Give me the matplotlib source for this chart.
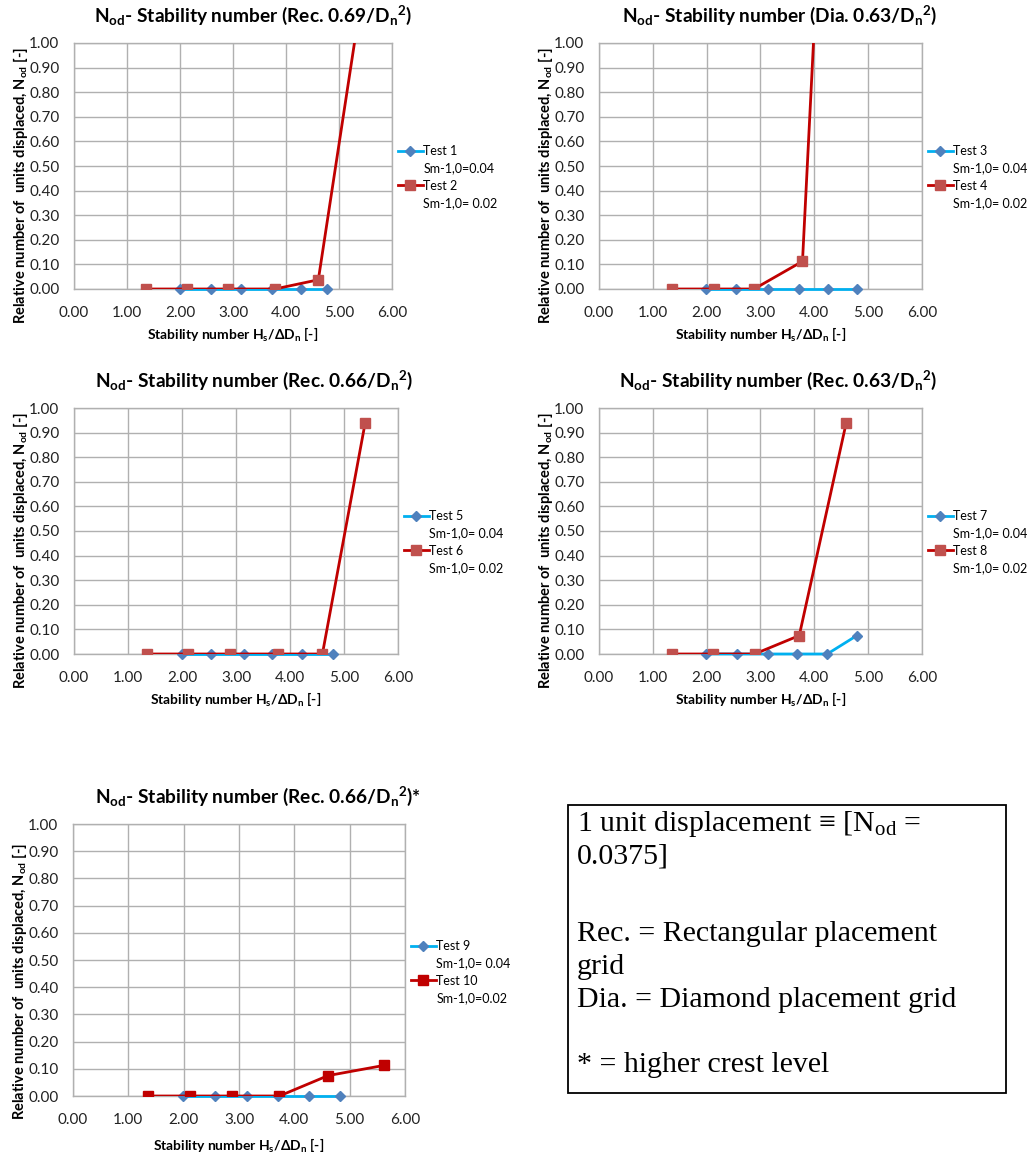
import matplotlib
matplotlib.use("Agg")
import matplotlib.pyplot as plt
from matplotlib.lines import Line2D

plt.rcParams["font.family"] = ["Lato", "DejaVu Sans"]
plt.rcParams["mathtext.fontset"] = "custom"
plt.rcParams["mathtext.rm"] = "Lato"
plt.rcParams["mathtext.it"] = "Lato"
plt.rcParams["mathtext.bf"] = "Lato:bold"

# Blue series (Sm-1,0 = 0.04)
x_test1 = [2.00, 2.58, 3.16, 3.73, 4.28, 4.78]
y_test1 = [0, 0, 0, 0, 0, 0]
x_test3 = [1.98, 2.55, 3.14, 3.71, 4.25, 4.80]
y_test3 = [0, 0, 0, 0, 0, 0]
x_test5 = [2.00, 2.53, 3.15, 3.66, 4.23, 4.79]
y_test5 = [0, 0, 0, 0, 0, 0]
x_test7 = [1.98, 2.57, 3.14, 3.68, 4.24, 4.79]
y_test7 = [0, 0, 0, 0, 0, 0.075]
x_test9 = [1.98, 2.56, 3.14, 3.70, 4.26, 4.82]
y_test9 = [0, 0, 0, 0, 0, 0]

# Red series (Sm-1,0 = 0.02)
x_test2 = [1.35, 2.14, 2.90, 3.79, 4.61, 5.38]
y_test2 = [0, 0, 0, 0, 0.0375, 1.125]
x_test4 = [1.35, 2.14, 2.88, 3.78, 4.03]
y_test4 = [0, 0, 0, 0.1125, 1.2]
x_test6 = [1.35, 2.12, 2.88, 3.78, 4.60, 5.39]
y_test6 = [0, 0, 0, 0, 0, 0.9375]
x_test8 = [1.36, 2.12, 2.89, 3.72, 4.59]
y_test8 = [0, 0, 0, 0.075, 0.9375]
x_test10 = [1.36, 2.12, 2.88, 3.73, 4.61, 5.62]
y_test10 = [0, 0, 0, 0, 0.075, 0.1125]

titles = [
    r"$\mathbf{N_{od}}$- Stability number (Rec. 0.69/$\mathbf{D_n}^\mathbf{2}$)",
    r"$\mathbf{N_{od}}$- Stability number (Dia. 0.63/$\mathbf{D_n}^\mathbf{2}$)",
    r"$\mathbf{N_{od}}$- Stability number (Rec. 0.66/$\mathbf{D_n}^\mathbf{2}$)",
    r"$\mathbf{N_{od}}$- Stability number (Rec. 0.63/$\mathbf{D_n}^\mathbf{2}$)",
    r"$\mathbf{N_{od}}$- Stability number (Rec. 0.66/$\mathbf{D_n}^\mathbf{2}$)*",
]
legend_names = [("Test 1", "Test 2"), ("Test 3", "Test 4"), ("Test 5", "Test 6"),
                ("Test 7", "Test 8"), ("Test 9", "Test 10")]
legend_sm = [("Sm-1,0=0.04", "Sm-1,0= 0.02"), ("Sm-1,0= 0.04", "Sm-1,0= 0.02"),
             ("Sm-1,0= 0.04", "Sm-1,0= 0.02"), ("Sm-1,0= 0.04", "Sm-1,0= 0.02"),
             ("Sm-1,0= 0.04", "Sm-1,0=0.02")]
blue_data = [(x_test1, y_test1), (x_test3, y_test3), (x_test5, y_test5),
             (x_test7, y_test7), (x_test9, y_test9)]
red_data = [(x_test2, y_test2), (x_test4, y_test4), (x_test6, y_test6),
            (x_test8, y_test8), (x_test10, y_test10)]

x_ticks = [0, 1, 2, 3, 4, 5, 6]
y_ticks = [0.0, 0.1, 0.2, 0.3, 0.4, 0.5, 0.6, 0.7, 0.8, 0.9, 1.0]

W, H = 1031, 1156
# pixel boxes: left, top, right, bottom
boxes = [(74, 43, 392, 289), (599, 43, 922, 289), (74, 408, 398, 654),
         (599, 408, 922, 654), (73, 824, 405, 1096)]
title_x = [0.563, 0.56, 0.556, 0.554, 0.557]

fig = plt.figure(figsize=(W / 100, H / 100), dpi=100)

grid_col = "#B0B0B0"
for i, (l, t, r, b) in enumerate(boxes):
    ax = fig.add_axes([l / W, 1 - b / H, (r - l) / W, (b - t) / H])
    ph = b - t
    bx, by = blue_data[i]
    rx, ry = red_data[i]
    blue_marker = "#4F81BD"
    red_marker = "#C0504D" if i < 4 else "#C00000"
    ax.plot(bx, by, color="#00B0F0", lw=2, marker="D", ms=5.5,
            mfc=blue_marker, mec=blue_marker, zorder=3, clip_on=False)
    ax.plot(rx, ry, color="#C00000", lw=2, marker="s", ms=6.5,
            mfc=red_marker, mec=red_marker, zorder=4)
    ax.set_xlim(0, 6)
    ax.set_ylim(0, 1)
    ax.set_xticks(x_ticks)
    ax.set_yticks(y_ticks)
    ax.set_xticklabels([f"{v:.2f}" for v in x_ticks])
    ax.set_yticklabels([f"{v:.2f}" for v in y_ticks])
    ax.tick_params(length=0, labelsize=11, colors="#222222")
    ax.tick_params(axis="x", pad=12)
    ax.tick_params(axis="y", pad=10.5)
    ax.grid(True, color=grid_col, lw=1)
    ax.set_axisbelow(True)
    for s in ax.spines.values():
        s.set_color(grid_col)
        s.set_linewidth(1)

    ax.text(title_x[i], 1 + 28 / ph, titles[i], transform=ax.transAxes,
            ha="center", va="center", fontsize=13.8, fontweight="bold")
    ax.set_xlabel(r"Stability number H$\mathbf{_s}$/ΔD$\mathbf{_n}$ [-]",
                  fontsize=10, fontweight="bold")
    ax.xaxis.set_label_coords(0.5, -(37 if i < 4 else 41) / ph)
    ax.set_ylabel(r"Relative number of  units displaced, N$\mathbf{_{od}}$ [-]",
                  fontsize=10.5, fontweight="bold")
    ax.yaxis.set_label_coords(-44 / (r - l), 0.42)

    handles = [
        Line2D([], [], color="#00B0F0", lw=2, marker="D", ms=5.5,
               mfc=blue_marker, mec=blue_marker),
        Line2D([], [], linestyle="none"),
        Line2D([], [], color="#C00000", lw=2, marker="s", ms=6.5,
               mfc=red_marker, mec=red_marker),
        Line2D([], [], linestyle="none"),
    ]
    labels = [legend_names[i][0], legend_sm[i][0], legend_names[i][1], legend_sm[i][1]]
    ax.legend(handles, labels, loc="center left", bbox_to_anchor=(1.0, 0.455),
              frameon=False, fontsize=9, handlelength=2.0, handletextpad=0.05,
              labelspacing=0.42, borderaxespad=0.25, borderpad=0.2)

# note box
fig.patches.append(plt.Rectangle((568 / W, 1 - 1093 / H), (1006 - 568) / W,
                                 (1093 - 805) / H, transform=fig.transFigure,
                                 fill=False, edgecolor="black", lw=1.3))
serif = ["Liberation Serif", "DejaVu Serif"]
note_lines = [
    (824, r"1 unit displacement ≡ [N$_{\mathrm{od}}$ ="),
    (856, "0.0375]"),
    (934, "Rec. = Rectangular placement"),
    (967, "grid"),
    (1000, "Dia. = Diamond placement grid"),
    (1065, "* = higher crest level"),
]
plt.rcParams["mathtext.rm"] = "Liberation Serif"
for yy, txt in note_lines:
    fig.text(577 / W, 1 - yy / H, txt, family=serif, fontsize=21.5,
             ha="left", va="center")

fig.savefig("out.png", dpi=100)
